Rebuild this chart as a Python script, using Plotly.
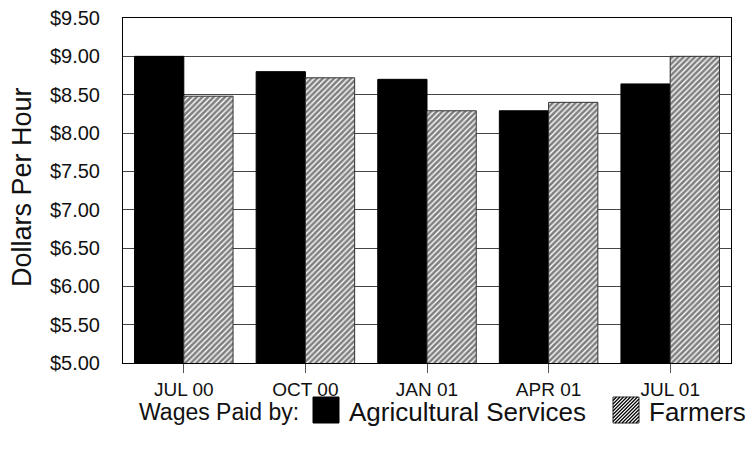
import plotly.graph_objects as go

categories = ["JUL 00", "OCT 00", "JAN 01", "APR 01", "JUL 01"]
ag_services = [9.00, 8.80, 8.70, 8.29, 8.64]
farmers = [8.48, 8.72, 8.29, 8.40, 9.00]
series_names = ["Agricultural Services", "Farmers"]
legend_title = "Wages Paid by:"
y_title = "Dollars Per Hour"

# page offset (browser body margin)
OFF = 8
W, H = 753, 454
L, R, T, B = 123 - OFF, 22 + OFF, 18 - OFF, 91 + OFF
PW, PH = W - L - R, H - T - B
FONT = "Liberation Sans, Arial, sans-serif"

def px2x(px):  # page pixel -> paper
    return (px - OFF - L) / PW

def py2y(py):
    return (H - B - (py - OFF)) / PH

fig = go.Figure()
fig.add_trace(go.Bar(
    x=categories, y=ag_services, name=series_names[0],
    marker=dict(color="black", line=dict(color="black", width=1)),
))
fig.add_trace(go.Bar(
    x=categories, y=farmers, name=series_names[1],
    marker=dict(color="white", line=dict(color="#333", width=1),
                pattern=dict(shape="/", size=4, solidity=0.65,
                             fgcolor="black", bgcolor="white")),
))

shapes = []
annotations = []
# y-axis title
annotations.append(dict(text=y_title, xref="paper", yref="paper",
                        x=px2x(22), y=py2y(187), xanchor="center", yanchor="middle",
                        textangle=-90, showarrow=False,
                        font=dict(family=FONT, size=27, color="#111")))
# custom legend
LEG_Y = 412
annotations.append(dict(text=legend_title, xref="paper", yref="paper",
                        x=px2x(301), y=py2y(LEG_Y), xanchor="right", yanchor="middle",
                        showarrow=False, font=dict(family=FONT, size=23, color="#111")))
sq = 26
legend_sq_x = [313, 613]
sy = 397
for i, name in enumerate(series_names):
    sx = legend_sq_x[i]
    if i == 0:
        shapes.append(dict(type="rect", xref="paper", yref="paper",
                           x0=px2x(sx), x1=px2x(sx + sq), y0=py2y(sy + sq), y1=py2y(sy),
                           fillcolor="black", line=dict(color="black", width=1)))
    else:
        shapes.append(dict(type="rect", xref="paper", yref="paper",
                           x0=px2x(sx), x1=px2x(sx + sq), y0=py2y(sy + sq), y1=py2y(sy),
                           fillcolor="white", line=dict(color="#333", width=1)))
        segs = []
        k = -sq
        while k < sq:
            u1, u2 = max(0, k), min(sq, sq + k)
            v1, v2 = u1 - k, u2 - k
            p1 = (px2x(sx + u1), py2y(sy + sq - v1))
            p2 = (px2x(sx + u2), py2y(sy + sq - v2))
            segs.append(f"M{p1[0]:.5f},{p1[1]:.5f}L{p2[0]:.5f},{p2[1]:.5f}")
            k += 3.5
        shapes.append(dict(type="path", xref="paper", yref="paper", path="".join(segs),
                           line=dict(color="black", width=1.2)))
    annotations.append(dict(text=name, xref="paper", yref="paper",
                            x=px2x(sx + sq + 8), y=py2y(LEG_Y), xanchor="left", yanchor="middle",
                            showarrow=False, font=dict(family=FONT, size=26, color="#111")))

fig.update_layout(
    width=W, height=H,
    margin=dict(l=L, r=R, t=T, b=B),
    paper_bgcolor="white", plot_bgcolor="white",
    showlegend=False,
    barmode="group", bargap=0.19, bargroupgap=0,
    font=dict(family=FONT, color="#111"),
    shapes=shapes, annotations=annotations,
)
fig.update_xaxes(
    showline=True, linecolor="black", linewidth=1, mirror=True,
    ticks="outside", ticklen=9, tickcolor="#555", tickwidth=1,
    tickfont=dict(size=19, family=FONT, color="#111"),
    ticklabelstandoff=0,
    showgrid=False, automargin=False,
)
fig.update_yaxes(
    range=[5, 9.5], dtick=0.5, tick0=5, tickformat="$.2f",
    showline=True, linecolor="black", linewidth=1, mirror=True,
    showgrid=True, gridcolor="#444", gridwidth=1,
    tickfont=dict(size=20, family=FONT, color="#111"),
    ticks="", ticklabelstandoff=18, ticklabeloverflow="allow",
    zeroline=False, automargin=False,
)

fig.write_html("out.html")
